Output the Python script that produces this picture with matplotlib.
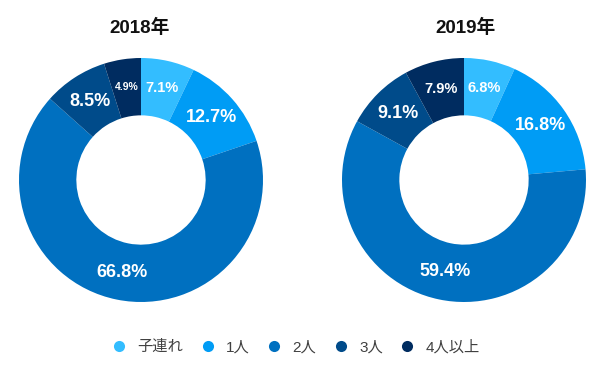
import matplotlib.pyplot as plt
from matplotlib.lines import Line2D

plt.rcParams['font.family'] = ['Liberation Sans', 'Noto Sans CJK JP', 'DejaVu Sans']

categories = ['子連れ', '1人', '2人', '3人', '4人以上']
years = ['2018年', '2019年']
shares_2018 = [7.1, 12.7, 66.8, 8.5, 4.9]
shares_2019 = [6.8, 16.8, 59.4, 9.1, 7.9]
colors = ['#33BDFF', '#009CF5', '#0070C0', '#004B8A', '#002C60']

# label font sizes per slice (small slices get smaller text)
label_sizes_2018 = [10.5, 13, 13, 13, 7.5]
label_sizes_2019 = [10.5, 13, 13, 13, 10.5]

fig = plt.figure(figsize=(6, 3.72), dpi=100)

def draw_donut(rect, values, title, sizes, title_x):
    ax = fig.add_axes(rect)
    wedges, texts, autotexts = ax.pie(
        values, colors=colors, startangle=90, counterclock=False,
        radius=1, autopct='%.1f%%', pctdistance=0.77,
        wedgeprops=dict(width=0.47, edgecolor='none'))
    for t, s in zip(autotexts, sizes):
        t.set_color('white')
        t.set_fontweight('bold')
        t.set_fontsize(s)
    ax.set_xlim(-1, 1)
    ax.set_ylim(-1, 1)
    ax.set_aspect('equal')
    ax.axis('off')
    fig.text(title_x, 1 - 28 / 372, title, ha='center', va='center',
             fontsize=13.5, fontweight='bold', color='#111111')

draw_donut([19 / 600, 70 / 372, 244 / 600, 244 / 372], shares_2018,
           years[0], label_sizes_2018, 140 / 600)
draw_donut([342 / 600, 70 / 372, 244 / 600, 244 / 372], shares_2019,
           years[1], label_sizes_2019, 465 / 600)

handles = [Line2D([], [], marker='o', linestyle='none', markersize=8,
                  markerfacecolor=c, markeredgecolor='none') for c in colors]
leg = fig.legend(handles, categories, loc='center', ncol=5,
                 bbox_to_anchor=(0.493, 1 - 347 / 372), frameon=False,
                 fontsize=11, handletextpad=0.7, columnspacing=1.1,
                 handlelength=1.0)
for t in leg.get_texts():
    t.set_color('#404040')

fig.savefig('out.png', dpi=100)
